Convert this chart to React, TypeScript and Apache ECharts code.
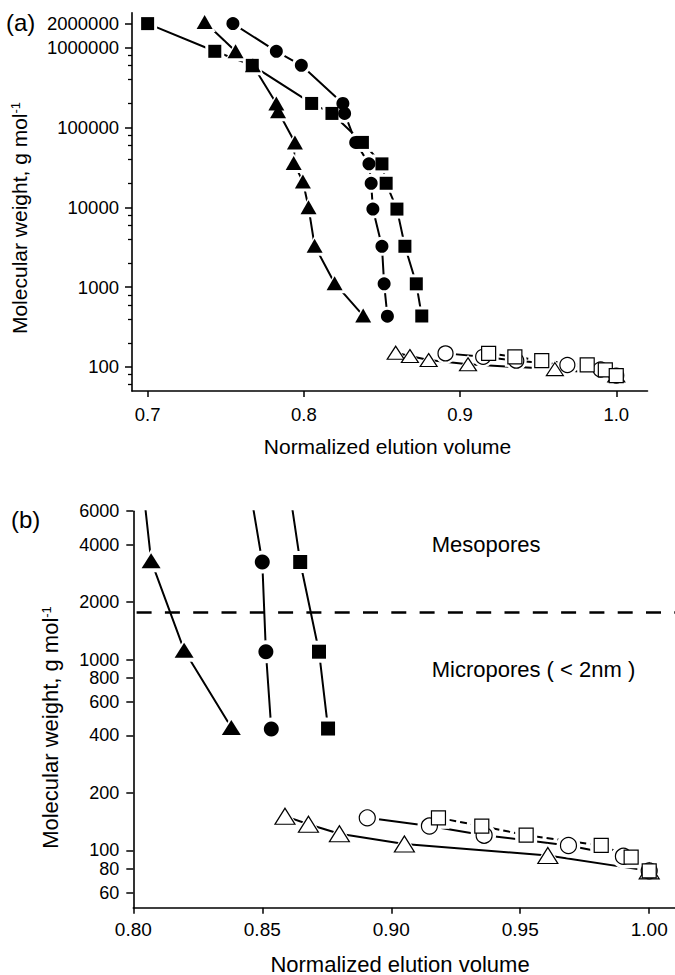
import React, { useEffect, useRef } from "react";
import * as echarts from "echarts";

// ---------- data (normalized elution volume, molecular weight g/mol) ----------
const filledTriangleX = [0.7365, 0.7563, 0.7674, 0.7824, 0.7835, 0.7943, 0.7935, 0.7994, 0.803, 0.8069, 0.8197, 0.838];
const filledTriangleM = [2100000, 900000, 600000, 200000, 160000, 65000, 36000, 21000, 10000, 3300, 1120, 440];
const filledCircleX = [0.7546, 0.7824, 0.7984, 0.825, 0.8261, 0.8332, 0.8417, 0.8431, 0.8442, 0.85, 0.8514, 0.8535];
const filledCircleM = [2000000, 900000, 600000, 200000, 150000, 65000, 35000, 20000, 9500, 3250, 1100, 432];
const filledSquareX = [0.7, 0.743, 0.767, 0.805, 0.818, 0.8375, 0.85, 0.8527, 0.8596, 0.8647, 0.872, 0.8755];
const filledSquareM = [2000000, 900000, 600000, 200000, 150000, 65000, 35000, 20000, 9500, 3250, 1100, 435];
const openTriangleX = [0.8588, 0.8679, 0.8799, 0.9051, 0.9607, 1.0];
const openTriangleM = [151, 137, 122, 108, 94, 78];
const openCircleX = [0.8907, 0.9148, 0.936, 0.9687, 0.99, 1.0];
const openCircleM = [148, 134, 120, 106, 93, 78];
const openSquareX = [0.9183, 0.9351, 0.9523, 0.9814, 0.993, 1.0];
const openSquareM = [148, 134, 120, 106, 92, 78];

// axis ranges and ticks
const xRangeA = [0.69, 1.02];
const xRangeB = [0.8, 1.01];
const yRangeA = [50, 2740000];
const yRangeB = [50, 6000];
const xTicksA = [0.7, 0.8, 0.9, 1.0];
const xTicksB = [0.8, 0.85, 0.9, 0.95, 1.0];
const yTicksA = [100, 1000, 10000, 100000, 1000000, 2000000];
const yMinorTicksA = [60, 80, 200, 400, 600, 800, 2000, 4000, 6000, 8000, 20000, 40000, 60000, 80000, 200000, 400000, 600000, 800000];
const yTicksB = [60, 80, 100, 200, 400, 600, 800, 1000, 2000, 4000, 6000];
const poreBoundaryM = 1770;

const FONT = "'Liberation Sans', Arial, Helvetica, sans-serif";
const lg = (v: number) => Math.log10(v);

type SetDef = {
  xs: number[];
  ms: number[];
  symbol: string;
  filled: boolean;
  dashed: boolean;
  sizeA: number | number[];
  sizeB: number | number[];
};

const sets: SetDef[] = [
  { xs: filledSquareX, ms: filledSquareM, symbol: "rect", filled: true, dashed: false, sizeA: 13, sizeB: 14 },
  { xs: filledCircleX, ms: filledCircleM, symbol: "circle", filled: true, dashed: false, sizeA: 13, sizeB: 15 },
  { xs: filledTriangleX, ms: filledTriangleM, symbol: "triangle", filled: true, dashed: false, sizeA: [16, 14], sizeB: [19, 15] },
  { xs: openTriangleX, ms: openTriangleM, symbol: "triangle", filled: false, dashed: false, sizeA: [17, 13], sizeB: [20, 16] },
  { xs: openCircleX, ms: openCircleM, symbol: "circle", filled: false, dashed: false, sizeA: 15, sizeB: 16 },
  { xs: openSquareX, ms: openSquareM, symbol: "rect", filled: false, dashed: true, sizeA: 14, sizeB: 14 },
];

const grow = (s: number | number[], d: number) => (Array.isArray(s) ? s.map((v) => v + d) : s + d);

function buildSeries(panel: number) {
  const xAxisIndex = panel;
  const yAxisIndex = panel === 0 ? 0 : 2;
  const lines: any[] = [];
  const halos: any[] = [];
  const marks: any[] = [];
  sets.forEach((s, i) => {
    const data = s.xs.map((x, k) => [x, lg(s.ms[k])]);
    const size = panel === 0 ? s.sizeA : s.sizeB;
    const line: any = {
      type: "line",
      xAxisIndex,
      yAxisIndex,
      data,
      symbol: "none",
      showSymbol: false,
      silent: true,
      clip: true,
      z: 2,
      lineStyle: { color: "#000", width: 2, opacity: 1, type: s.dashed ? [7, 4] : "solid" },
    };
    if (panel === 1 && i === 0) {
      line.markLine = {
        silent: true,
        symbol: ["none", "none"],
        label: { show: false },
        lineStyle: { color: "#000", width: 2.5, opacity: 1, type: [15, 13.3], dashOffset: 24.6 },
        data: [{ yAxis: lg(poreBoundaryM) }],
      };
    }
    lines.push(line);
    halos.push({
      type: "scatter",
      xAxisIndex,
      yAxisIndex,
      data,
      symbol: s.symbol,
      symbolSize: grow(size, panel === 0 ? 6 : 8),
      silent: true,
      clip: true,
      z: 3,
      itemStyle: { color: "#fff", opacity: 1 },
    });
    marks.push({
      type: "scatter",
      xAxisIndex,
      yAxisIndex,
      data,
      symbol: s.symbol,
      symbolSize: size,
      silent: true,
      clip: true,
      z: 4,
      itemStyle: s.filled
        ? { color: "#000", opacity: 1 }
        : { color: "#fff", borderColor: "#000", borderWidth: 1.2, opacity: 1 },
    });
  });
  return [...lines, ...halos, ...marks];
}

const axisLine = { show: true, onZero: false, lineStyle: { color: "#000", width: 1.6 } };
const labelStyle = (size: number, margin: number) => ({ color: "#000", fontFamily: FONT, fontSize: size, margin });
const mwFormatter = (v: number) => String(Math.round(Math.pow(10, v)));

export default function App() {
  const ref = useRef<HTMLDivElement>(null);
  useEffect(() => {
    if (!ref.current) return;
    const chart = echarts.init(ref.current, null, { renderer: "svg" });
    const supRich = { sup: { fontSize: 13, fontFamily: FONT, fill: "#000", verticalAlign: "top" } };
    const option: any = {
      animation: false,
      backgroundColor: "#fff",
      grid: [
        { left: 132, top: 12.7, width: 515.5, height: 378.3, containLabel: false, outerBoundsMode: "none" },
        { left: 133.3, top: 511.2, width: 541.7, height: 396.5, containLabel: false, outerBoundsMode: "none" },
      ],
      xAxis: [
        {
          type: "value",
          gridIndex: 0,
          min: xRangeA[0],
          max: xRangeA[1],
          axisLine,
          splitLine: { show: false },
          axisTick: { show: true, customValues: xTicksA, length: 6, lineStyle: { color: "#000", width: 1.5 } },
          axisLabel: { ...labelStyle(18.5, 14), customValues: xTicksA, formatter: (v: number) => v.toFixed(1) },
        },
        {
          type: "value",
          gridIndex: 1,
          min: xRangeB[0],
          max: xRangeB[1],
          axisLine,
          splitLine: { show: false },
          axisTick: { show: true, customValues: xTicksB, length: 6, lineStyle: { color: "#000", width: 1.5 } },
          axisLabel: { ...labelStyle(19, 12), customValues: xTicksB, formatter: (v: number) => v.toFixed(2) },
        },
      ],
      yAxis: [
        {
          type: "value",
          gridIndex: 0,
          position: "left",
          min: lg(yRangeA[0]),
          max: lg(yRangeA[1]),
          axisLine,
          splitLine: { show: false },
          axisTick: { show: true, customValues: yTicksA.map(lg), length: 7, lineStyle: { color: "#000", width: 1.5 } },
          axisLabel: { ...labelStyle(18.5, 13), customValues: yTicksA.map(lg), formatter: mwFormatter },
        },
        {
          type: "value",
          gridIndex: 0,
          position: "left",
          min: lg(yRangeA[0]),
          max: lg(yRangeA[1]),
          axisLine: { show: false },
          splitLine: { show: false },
          axisTick: { show: true, customValues: yMinorTicksA.map(lg), length: 4, lineStyle: { color: "#000", width: 1.3 } },
          axisLabel: { show: false },
        },
        {
          type: "value",
          gridIndex: 1,
          position: "left",
          min: lg(yRangeB[0]),
          max: lg(yRangeB[1]),
          axisLine,
          splitLine: { show: false },
          axisTick: { show: true, customValues: yTicksB.map(lg), length: 7, lineStyle: { color: "#000", width: 1.5 } },
          axisLabel: { ...labelStyle(18, 14), customValues: yTicksB.map(lg), formatter: mwFormatter },
        },
      ],
      series: [...buildSeries(0), ...buildSeries(1)],
      graphic: [
        { type: "text", x: 6, y: 22.5, style: { text: "(a)", fontSize: 24, fontFamily: FONT, fill: "#000", align: "left", verticalAlign: "middle" } },
        { type: "text", x: 11, y: 519.5, style: { text: "(b)", fontSize: 24, fontFamily: FONT, fill: "#000", align: "left", verticalAlign: "middle" } },
        {
          type: "text",
          x: 19.5,
          y: 218,
          rotation: Math.PI / 2,
          style: {
            text: "Molecular weight, g mol{sup|-1}",
            fontSize: 21,
            fontFamily: FONT,
            fill: "#000",
            align: "center",
            verticalAlign: "middle",
            rich: supRich,
          },
        },
        {
          type: "text",
          x: 50.6,
          y: 727.5,
          rotation: Math.PI / 2,
          style: {
            text: "Molecular weight, g mol{sup|-1}",
            fontSize: 22,
            fontFamily: FONT,
            fill: "#000",
            align: "center",
            verticalAlign: "middle",
            rich: supRich,
          },
        },
        { type: "text", x: 387.5, y: 446, style: { text: "Normalized elution volume", fontSize: 21, fontFamily: FONT, fill: "#000", align: "center", verticalAlign: "middle" } },
        { type: "text", x: 400, y: 964, style: { text: "Normalized elution volume", fontSize: 22, fontFamily: FONT, fill: "#000", align: "center", verticalAlign: "middle" } },
        { type: "text", x: 431.7, y: 544, style: { text: "Mesopores", fontSize: 22, fontFamily: FONT, fill: "#000", align: "left", verticalAlign: "middle" } },
        { type: "text", x: 431.7, y: 669, style: { text: "Micropores ( < 2nm )", fontSize: 22, fontFamily: FONT, fill: "#000", align: "left", verticalAlign: "middle" } },
      ],
    };
    chart.setOption(option);
    return () => chart.dispose();
  }, []);
  return (
    <div
      ref={ref}
      style={{ position: "absolute", left: 0, top: 0, width: 675, height: 975, background: "#fff" }}
    />
  );
}
